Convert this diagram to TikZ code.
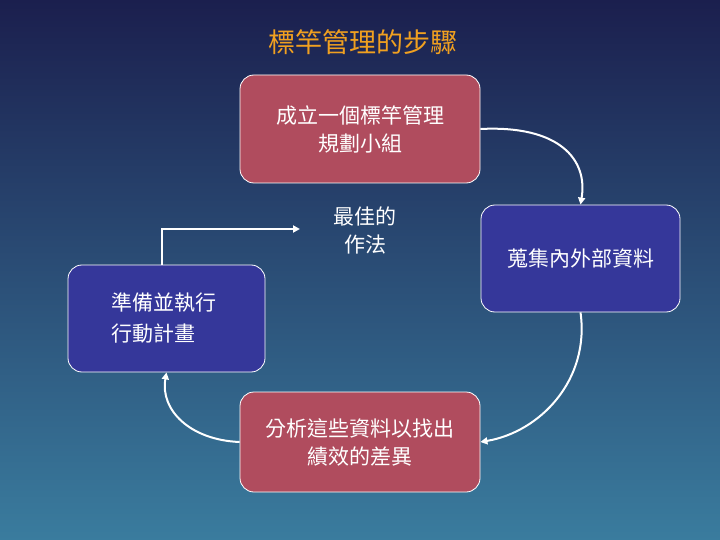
\documentclass[tikz,border=0pt]{standalone}
\usepackage{fontspec}
\newfontfamily\cjk{Noto Sans CJK TC}
\usetikzlibrary{arrows.meta}
\definecolor{bgtop}{HTML}{1B1F4E}
\definecolor{bgbot}{HTML}{3A7C9E}
\definecolor{redbox}{HTML}{B04C5E}
\definecolor{bluebox}{HTML}{35379A}
\definecolor{titleor}{HTML}{F0A020}
\tikzset{
 box/.style={draw=white, line width=0.8pt, rounded corners=14pt, text=white, font=\cjk\fontsize{21}{28}\selectfont, align=center},
 arr/.style={draw=white, line width=2pt, -{Triangle[length=7pt,width=7pt]}}
}
\begin{document}
\begin{tikzpicture}[x=1pt,y=-1pt]
\shade[top color=bgtop, bottom color=bgbot] (0,0) rectangle (720,540);
\useasboundingbox (0,0) rectangle (720,540);
\node[text=titleor, font=\cjk\fontsize{27}{30}\selectfont] (title) at (363,42) {標竿管理的步驟};
\node[box, fill=redbox, minimum width=240pt, minimum height=108pt] (top) at (360,129) {成立一個標竿管理\\規劃小組};
\node[box, fill=bluebox, minimum width=199pt, minimum height=107pt] (right) at (580.5,258.5) {蒐集內外部資料};
\node[box, fill=redbox, minimum width=240pt, minimum height=100pt] (bot) at (360,442) {分析這些資料以找出\\績效的差異};
\node[box, fill=bluebox, minimum width=197pt, minimum height=107pt] (left) at (166.5,318.5) {};
\node[text=white, font=\cjk\fontsize{21}{31}\selectfont, align=left, anchor=west] (lt) at (108,318) {準備並執行\\行動計畫};
\node[text=white, font=\cjk\fontsize{21}{28}\selectfont, align=center] (best) at (365,230) {最佳的\\作法};
\coordinate (c1) at (162,229);
\coordinate (c2) at (300,229);
\draw[arr] (left.north -| c1) -- (c1) -- (c2);
\draw[arr] (top.east) .. controls (560,125) and (588,160) .. (right.north);
\draw[arr] (right.south) .. controls (590,380) and (540,432) .. (bot.east);
\draw[arr] (bot.west) .. controls (190,440) and (160,410) .. (left.south);
\end{tikzpicture}
\end{document}
